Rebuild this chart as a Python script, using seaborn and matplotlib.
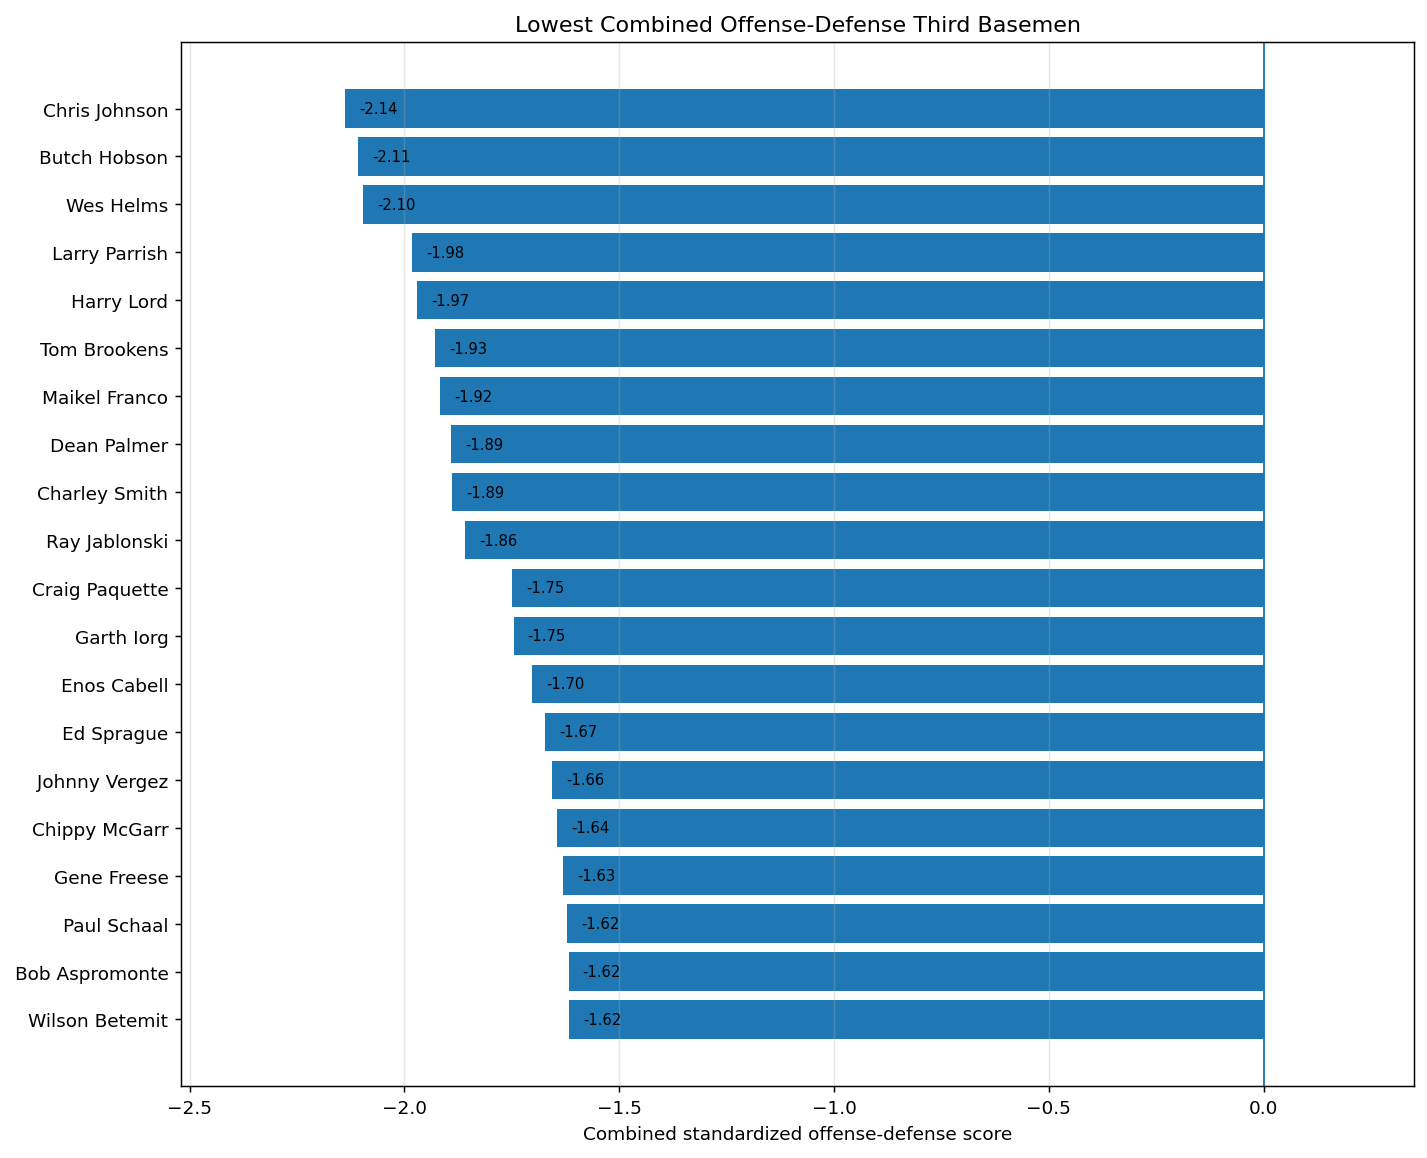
import numpy as np
import pandas as pd
import matplotlib
matplotlib.use('Agg')
import matplotlib.pyplot as plt
import seaborn as sns

# 数据：得分最低的三垒手
players = ['Chris Johnson', 'Butch Hobson', 'Wes Helms', 'Larry Parrish', 'Harry Lord',
           'Tom Brookens', 'Maikel Franco', 'Dean Palmer', 'Charley Smith', 'Ray Jablonski',
           'Craig Paquette', 'Garth Iorg', 'Enos Cabell', 'Ed Sprague', 'Johnny Vergez',
           'Chippy McGarr', 'Gene Freese', 'Paul Schaal', 'Bob Aspromonte', 'Wilson Betemit']
scores = [-2.137, -2.107, -2.097, -1.983, -1.971,
          -1.928, -1.916, -1.891, -1.890, -1.858,
          -1.749, -1.746, -1.702, -1.672, -1.656,
          -1.644, -1.630, -1.622, -1.618, -1.616]

data = pd.DataFrame({'player': players, 'score': scores})

fig, ax = plt.subplots(figsize=(10.71, 8.6925), dpi=133.333)
sns.barplot(data=data, x='score', y='player', orient='h', color='#1f77b4',
            saturation=1, width=0.8, ax=ax)

ax.axvline(0, color='#1f77b4', linewidth=1)
for i, v in enumerate(scores):
    ax.text(v + 0.033, i, '{:.2f}'.format(v), va='center', ha='left', fontsize=8)

ax.set_xlim(-2.519, 0.349)
ax.set_ylim(20.39, -1.39)
# 网格线画在柱子上面
ax.grid(axis='x', alpha=0.3)
ax.set_title('Lowest Combined Offense-Defense Third Basemen', fontsize=12)
ax.set_xlabel('Combined standardized offense-defense score', fontsize=10)
ax.set_ylabel('')
ax.tick_params(labelsize=10)

plt.subplots_adjust(left=0.127, right=0.990, top=0.963, bottom=0.062)
plt.savefig('out.png')
